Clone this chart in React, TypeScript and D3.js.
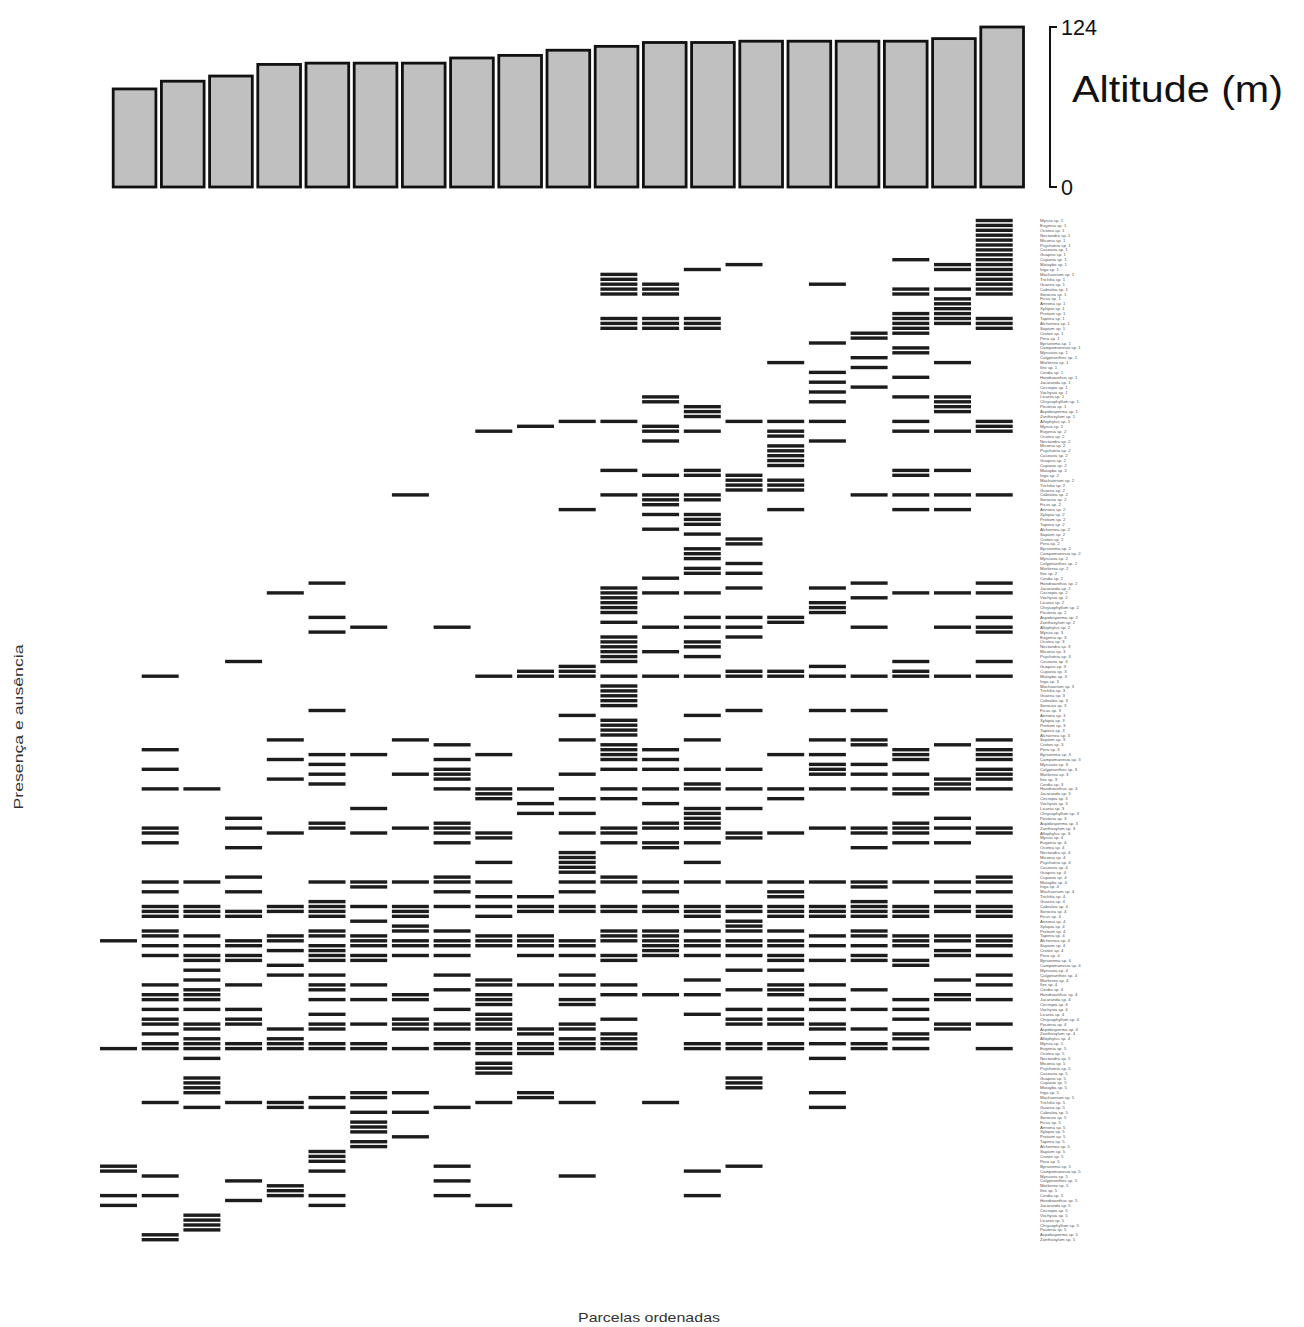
import React from "react";
import * as d3 from "d3";

// Altitude of each ordered plot (m)
const altitude: number[] = [76, 82, 86, 95, 96, 96, 96, 100, 102, 106, 109, 112, 112, 113, 113, 113, 113, 115, 124];
const altitudeTicks: number[] = [0, 124];

// Presence of species (row indices) in each ordered plot; "a-b" marks a run of rows
const presence: string[] = [
  "147,169,193-194,199,201",
  "93,108,112,116,124-125,127,135,137,140-142,145-146,148,150,156,158-159,161,163-164,166,168-169,180,195,199,207-208",
  "116,135,140-142,146,148,150-151,153,155,157-159,161,164-165,167-169,171,175-178,181,203-206",
  "90,122,124,128,134,137,141-142,147-148,150-151,156,161,163-164,168-169,180,196,200",
  "76,106,110,114,125,140-141,146-147,149,152,154,165,167-169,180-181,197-199",
  "74,81,84,100,109,111,113,115,123-124,135,139-142,145-146,148-151,154,156-157,159,162,164-165,168-169,179,181,190-192,194,199,201",
  "83,109,120,125,135-136,140,143,146-148,150-151,156,159,164,168-169,178-179,182,184-186,188-189",
  "56,106,113,124,135,140-142,144-145,147-148,150,158-159,163-165,169,178,182,187",
  "83,107,110,112-114,116,123-125,127,134-135,137,140,145,147-148,150,154,157,161,164-165,168-169,181,193,196,199",
  "43,93,109,116-118,125-126,131,135,138,140,142,146-148,155-156,158-160,162-165,168-170,172-174,180,201",
  "42,92-93,116,119,121,138,140-141,146-148,150,156,165-166,168-170,178-179",
  "41,59,91-93,101,106,113,118,121,125,129-133,135,137,140-141,147-148,150,154,156,159-160,164-165,167-169,180,195",
  "11-15,20-22,41,51,56,75-80,82,85-90,93,95-99,102-105,107-110,112,116,118,124-125,127,134-135,140-141,145-147,150-151,156,158,163,166-169",
  "13-15,20-22,36-37,42-43,45,52,56-58,60,63,73,76,83,88,93,108,110,112,116,119,123-124,127-128,135,137,140-141,145-150,158,180",
  "10,20-22,38-40,43,51-52,56-57,60-62,64,67-69,71-72,76,81,83,86-87,89,93,101,106,112,115-116,120-124,127,131,135,140-142,145,147-148,150,155,158,162,168-169,194,199",
  "9,41,52-55,65-66,70,72,75,81,83,85,92-93,100,112,116,120,125-126,135,140-141,143-145,147-148,150,153,157,161,163-164,168-169,175-177,193",
  "29,41,43-44,46-50,53-55,59,81-82,92-93,109,116,118,125,135,137-138,140-142,145,147-148,150-151,153,156-158,161,163-164,168-169",
  "13,25,31,33,35,37,41,45,75,78-80,91,93,100,106,109,111-113,116,124,135,140-142,146,148,151,156,159,161,164-165,168,171,178,181",
  "23-24,28,30,34,56,74,77,83,93,100,106-107,111,113,116,124-125,128,135-136,139-142,145-146,148,150-151,157,161,165,168-169",
  "8,14-15,19-23,26-27,32,36,41,43,51-52,56,59,76,90,92-93,108-110,113,116-117,123-125,127,135,140-142,146-148,151-152,159,161,163,166-167,169",
  "9-10,14,16-21,29,36-39,43,51,56,59,76,83,93,107,114-116,122,124,127,135,137,140-141,146-147,149-150,155,158-159,164-165",
  "0-15,20-22,41-43,56,74,76,81,83-84,90,93,106,108-110,112-114,116,124-125,134-135,137,140-142,146-148,150,154,156,159,164,169",
];

const speciesCount = 209;

// Genera used for the species name column
const genera: string[] = [
  "Myrcia", "Eugenia", "Ocotea", "Nectandra", "Miconia", "Psychotria", "Casearia", "Guapira",
  "Cupania", "Matayba", "Inga", "Machaerium", "Trichilia", "Guarea", "Cabralea", "Sorocea",
  "Ficus", "Annona", "Xylopia", "Protium", "Tapirira", "Alchornea", "Sapium", "Croton",
  "Pera", "Byrsonima", "Campomanesia", "Myrciaria", "Calyptranthes", "Marlierea", "Ilex",
  "Cordia", "Handroanthus", "Jacaranda", "Cecropia", "Vochysia", "Licania", "Chrysophyllum",
  "Pouteria", "Aspidosperma", "Zanthoxylum", "Allophylus",
];

const speciesNames: string[] = d3.range(speciesCount).map(
  (i) => `${genera[i % genera.length]} sp. ${Math.floor(i / genera.length) + 1}`
);

const yTitle = "Presença e ausência";
const xTitle = "Parcelas ordenadas";
const altTitle = "Altitude (m)";

function parseRows(spec: string): number[] {
  const out: number[] = [];
  spec.split(",").forEach((tok) => {
    const [a, b] = tok.split("-").map(Number);
    if (b === undefined || isNaN(b)) out.push(a);
    else for (let r = a; r <= b; r++) out.push(r);
  });
  return out;
}

const FONT = "'Liberation Sans', Arial, Helvetica, sans-serif";

export default function App() {
  const W = 1304;
  const H = 1327;

  // top panel: altitude bars
  const barX = d3
    .scaleBand<number>()
    .domain(d3.range(altitude.length))
    .range([113.2, 1023.5])
    .paddingInner(0.114)
    .paddingOuter(0);
  const altY = d3.scaleLinear().domain([0, 124]).range([187, 27]);

  // bottom panel: presence/absence matrix
  const colX = d3
    .scaleBand<number>()
    .domain(d3.range(presence.length))
    .range([100, 1012.7])
    .paddingInner(0.113)
    .paddingOuter(0);
  const rowY = d3
    .scaleLinear()
    .domain([0, speciesCount - 1])
    .range([220.5, 220.5 + 4.9 * (speciesCount - 1)]);
  const dashH = 3.4;

  const cells: { c: number; r: number }[] = [];
  presence.forEach((spec, c) => parseRows(spec).forEach((r) => cells.push({ c, r })));

  const axisX = 1050;

  return (
    <div style={{ position: "absolute", left: 0, top: 0 }}>
      <svg width={W} height={H} style={{ display: "block", background: "#ffffff" }} fontFamily={FONT}>
        <rect x={0} y={0} width={W} height={H} fill="#ffffff" />

        {/* altitude bars */}
        <g>
          {altitude.map((v, i) => (
            <rect
              key={i}
              x={barX(i)}
              y={altY(v)}
              width={barX.bandwidth()}
              height={altY(0) - altY(v)}
              fill="#c0c0c0"
              stroke="#111111"
              strokeWidth={2.8}
            />
          ))}
        </g>

        {/* altitude axis on the right */}
        <g stroke="#111111" strokeWidth={2}>
          <line x1={axisX} x2={axisX} y1={altY(0)} y2={altY(124)} />
          {altitudeTicks.map((t) => (
            <line key={t} x1={axisX - 1} x2={axisX + 7} y1={altY(t)} y2={altY(t)} />
          ))}
        </g>
        {altitudeTicks.map((t) => (
          <text
            key={t}
            x={axisX + 11}
            y={altY(t)}
            dy="0.36em"
            fontSize={22}
            fill="#111111"
            textLength={t === 124 ? 36 : 12}
            lengthAdjust="spacingAndGlyphs"
          >
            {t}
          </text>
        ))}
        <text
          x={1072}
          y={102}
          fontSize={37}
          fill="#111111"
          textLength={211}
          lengthAdjust="spacingAndGlyphs"
        >
          {altTitle}
        </text>

        {/* presence matrix */}
        <g fill="#1c1c1c">
          {cells.map(({ c, r }, k) => (
            <rect
              key={k}
              x={colX(c)}
              y={rowY(r) - dashH / 2}
              width={colX.bandwidth()}
              height={dashH}
            />
          ))}
        </g>

        {/* species names */}
        <g fontSize={4.3} fill="#555555">
          {speciesNames.map((name, i) => (
            <text key={i} x={1040} y={rowY(i) + 1.5}>
              {name}
            </text>
          ))}
        </g>

        {/* axis titles */}
        <text
          transform={`translate(23,727) rotate(-90)`}
          textAnchor="middle"
          fontSize={13}
          fill="#333333"
          textLength={165}
          lengthAdjust="spacingAndGlyphs"
        >
          {yTitle}
        </text>
        <text
          x={649}
          y={1322}
          textAnchor="middle"
          fontSize={13}
          fill="#333333"
          textLength={142}
          lengthAdjust="spacingAndGlyphs"
        >
          {xTitle}
        </text>
      </svg>
    </div>
  );
}
